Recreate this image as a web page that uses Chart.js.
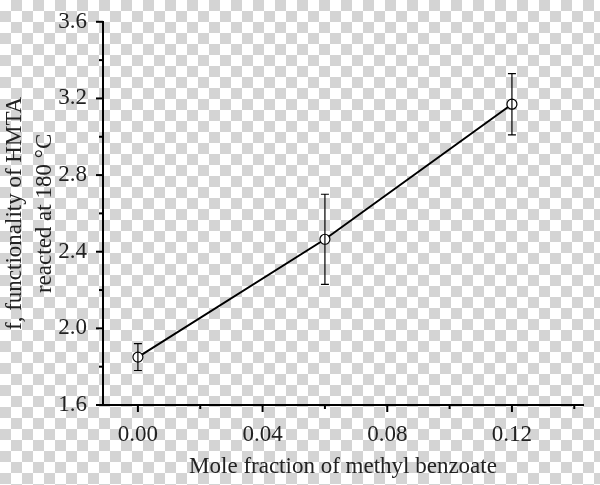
<!DOCTYPE html>
<html><head><meta charset="utf-8">
<script src="https://cdn.jsdelivr.net/npm/chart.js@4"></script>
<style>
html,body{margin:0;padding:0;}
body{width:600px;height:485px;background-color:#fff;
background-image:linear-gradient(45deg,#d4d4d4 25%,transparent 25%,transparent 75%,#d4d4d4 75%),linear-gradient(45deg,#d4d4d4 25%,transparent 25%,transparent 75%,#d4d4d4 75%);
background-size:22px 22px;background-position:0 0,11px 11px;}
#c{display:block;}
</style></head><body>
<div style="width:600px;height:485px"><canvas id="c"></canvas></div>
<script>
const moleFraction=[0.00,0.06,0.12];
const functionality=[1.85,2.465,3.17];
const errLow=[1.78,2.23,3.01];
const errHigh=[1.92,2.70,3.33];
const xTicks=[0.00,0.04,0.08,0.12];
const yTicks=[1.6,2.0,2.4,2.8,3.2,3.6];
const FONT='"Liberation Serif", "Times New Roman", serif';

const decor={id:'decor',afterDatasetsDraw(ch){
  const c=ch.ctx,x=ch.scales.x,y=ch.scales.y;
  c.save();c.strokeStyle='#000';c.lineWidth=1.2;
  moleFraction.forEach((m,i)=>{
    const px=x.getPixelForValue(m),lo=y.getPixelForValue(errLow[i]),hi=y.getPixelForValue(errHigh[i]);
    c.beginPath();c.moveTo(px,lo);c.lineTo(px,hi);
    c.moveTo(px-4,lo);c.lineTo(px+4,lo);c.moveTo(px-4,hi);c.lineTo(px+4,hi);c.stroke();
  });
  c.lineWidth=2;
  const b=y.getPixelForValue(1.6);
  for(let v=0;v<=0.141;v+=0.02){const px=x.getPixelForValue(v);const maj=Math.abs(v/0.04-Math.round(v/0.04))<1e-6;
    c.beginPath();c.moveTo(px,b);c.lineTo(px,b+(maj?7:4));c.stroke();}
  const l=x.left;
  for(let v=1.6;v<=3.601;v+=0.2){const py=y.getPixelForValue(v);const maj=Math.round(v*10)%4===0;
    c.beginPath();c.moveTo(l,py);c.lineTo(l-(maj?7:4),py);c.stroke();}
  c.restore();
}};

new Chart(document.getElementById('c'),{
  type:'scatter',
  data:{datasets:[{data:moleFraction.map((m,i)=>({x:m,y:functionality[i]})),showLine:true,
    borderColor:'#000',borderWidth:2,pointRadius:5,pointBackgroundColor:'#fff',pointBorderColor:'#000',pointBorderWidth:1.2}]},
  options:{responsive:true,maintainAspectRatio:false,animation:false,
    layout:{padding:{left:0,right:17,top:10,bottom:0}},
    plugins:{legend:{display:false},tooltip:{enabled:false}},
    scales:{
      x:{type:'linear',min:-0.0112,max:0.1428,
        afterBuildTicks:s=>{s.ticks=xTicks.map(v=>({value:v}));},
        afterFit:s=>{s.height=80;},
        grid:{display:false},border:{color:'#000',width:2},
        ticks:{color:'#222',font:{family:FONT,size:23},padding:8,callback:v=>v.toFixed(2),maxRotation:0},
        title:{display:true,text:'Mole fraction of methyl benzoate',color:'#222',font:{family:FONT,size:23},padding:{top:8}}},
      y:{type:'linear',min:1.6,max:3.6,
        afterBuildTicks:s=>{s.ticks=yTicks.map(v=>({value:v}));},
        afterFit:s=>{s.width=103;},
        grid:{display:false},border:{color:'#000',width:2},
        ticks:{color:'#222',font:{family:FONT,size:23},padding:8,callback:v=>v.toFixed(1)},
        title:{display:true,text:['f, functionality of HMTA','reacted at 180 °C'],color:'#222',font:{family:FONT,size:23,lineHeight:1.3},padding:{top:0,bottom:0}}}
    }},
  plugins:[decor]
});
</script></body></html>
